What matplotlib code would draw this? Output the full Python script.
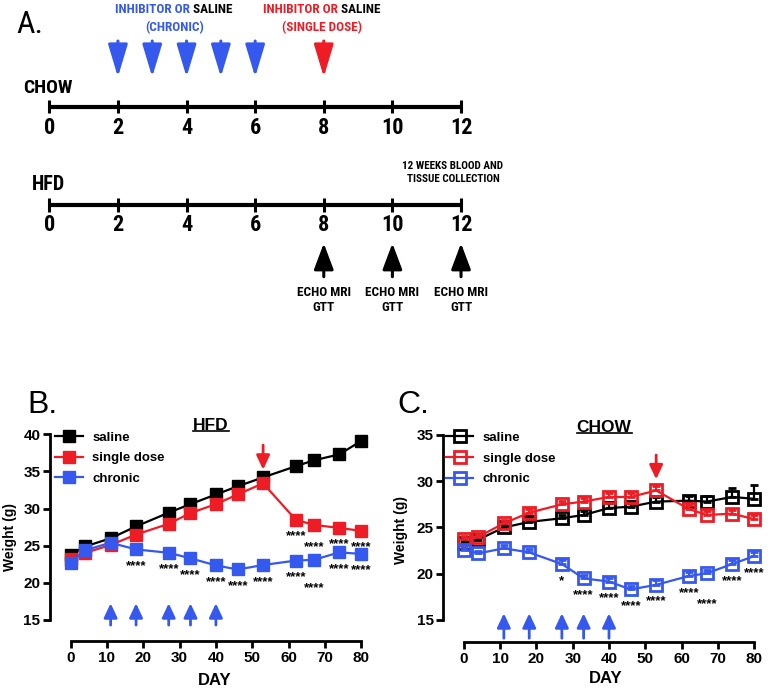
import matplotlib.pyplot as plt
from matplotlib.lines import Line2D
from matplotlib.transforms import blended_transform_factory, offset_copy
import numpy as np

plt.rcParams['font.family'] = ['Liberation Sans', 'DejaVu Sans']
plt.rcParams['font.weight'] = 'bold'

BLUE = '#3558ef'
RED = '#ee1c25'
NARROW = ['Liberation Sans Narrow', 'Roboto Condensed', 'DejaVu Sans Condensed',
          'Open Sans Condensed', 'Liberation Sans']

# panel A: study timeline (weeks)
timeline_weeks = [0, 2, 4, 6, 8, 10, 12]
chronic_weeks = [2, 3, 4, 5, 6]
single_week = 8
echo_weeks = [8, 10, 12]

# panels B and C: body weight (g) by day
days = [0, 4, 11, 18, 27, 33, 40, 46, 53, 62, 67, 74, 80]
groups = ['saline', 'single dose', 'chronic']

hfd_saline = [23.8, 24.9, 26.0, 27.6, 29.45, 30.6, 31.9, 33.0, 34.2, 35.7, 36.5, 37.3, 39.1]
hfd_single = [23.2, 24.05, 25.1, 26.5, 27.95, 29.4, 30.6, 31.9, 33.4, 28.5, 27.8, 27.4, 27.0]
hfd_chronic = [22.7, 24.4, 25.4, 24.5, 24.05, 23.3, 22.35, 21.8, 22.4, 23.0, 23.1, 24.1, 23.9]
hfd_sem = [0.3, 0.3, 0.3, 0.4, 0.4, 0.4, 0.4, 0.4, 0.5, 0.5, 0.5, 0.5, 0.6]

chow_saline = [23.3, 23.7, 25.0, 25.6, 26.0, 26.35, 27.1, 27.25, 27.8, 27.9, 27.8, 28.3, 28.1]
chow_single = [23.8, 24.0, 25.45, 26.6, 27.5, 27.8, 28.3, 28.3, 29.0, 27.0, 26.35, 26.5, 25.9]
chow_chronic = [22.6, 22.2, 22.75, 22.3, 21.05, 19.5, 19.15, 18.3, 18.8, 19.75, 20.05, 21.05, 21.9]
chow_saline_sem = [0.3, 0.3, 0.4, 0.3, 0.4, 0.4, 0.5, 0.4, 0.5, 0.5, 0.6, 0.95, 1.45]
chow_sem = [0.3, 0.3, 0.4, 0.4, 0.4, 0.4, 0.4, 0.4, 0.5, 0.4, 0.4, 0.4, 0.5]

hfd_single_stars = ['', '', '', '', '', '', '', '', '', '****', '****', '****', '****']
hfd_chronic_stars = ['', '', '', '****', '****', '****', '****', '****', '****', '****', '****', '****', '****']
chow_chronic_stars = ['', '', '', '', '*', '****', '****', '****', '****', '****', '****', '****', '****']

chronic_days = [11, 18, 27, 33, 40]
single_day = 53

W, H = 768, 693
fig = plt.figure(figsize=(W / 100, H / 100), dpi=100)


def px_axes(x0, y0, x1, y1):
    # rectangle given in pixels from the top-left corner
    return fig.add_axes([x0 / W, 1 - y1 / H, (x1 - x0) / W, (y1 - y0) / H])


# ---------------- panel A ----------------
axa = px_axes(0, 0, W, 340)
x0_px, px_wk = 49.3, 34.31
axa.set_xlim(-x0_px / px_wk, (W - x0_px) / px_wk)
axa.set_ylim(340, 0)
axa.axis('off')


def wk(px):
    return (px - x0_px) / px_wk


for y_line, y_lab in [(106.7, 128), (205, 225)]:
    axa.plot([timeline_weeks[0], timeline_weeks[-1]], [y_line, y_line], color='k', lw=3,
             solid_capstyle='butt')
    axa.vlines(timeline_weeks, y_line - 6.7, y_line + 6.7, color='k', lw=2.2)
    for w in timeline_weeks:
        axa.text(w, y_lab, str(w), ha='center', va='center', fontsize=16, family=NARROW)

axa.text(wk(22.7), 88, 'CHOW', ha='left', va='center', fontsize=14, family=NARROW)
axa.text(wk(32), 184, 'HFD', ha='left', va='center', fontsize=14.5, family=NARROW)

down = dict(arrowstyle='-|>,head_length=2.0,head_width=0.6', mutation_scale=10, lw=2.2,
            shrinkA=0, shrinkB=0)
for w in chronic_weeks:
    axa.annotate('', xy=(w, 77), xytext=(w, 41), arrowprops=dict(down, color=BLUE))
axa.annotate('', xy=(single_week, 77), xytext=(single_week, 41), arrowprops=dict(down, color=RED))

up = dict(arrowstyle='-|>,head_length=1.6,head_width=0.6', mutation_scale=10, lw=2.2,
          shrinkA=0, shrinkB=0, color='k')
for w in echo_weeks:
    axa.annotate('', xy=(w, 243.3), xytext=(w, 276.7), arrowprops=up)
    axa.text(w, 300, 'ECHO MRI\nGTT', ha='center', va='center', fontsize=9.5, family=NARROW,
             linespacing=1.25)

axa.text(wk(453), 172.8, '12 WEEKS BLOOD AND\nTISSUE COLLECTION', ha='center', va='center',
         fontsize=8, family=NARROW, linespacing=1.4)


def two_color(x, y, first, second, color):
    t1 = axa.text(x, y, first, color=color, ha='left', va='center', fontsize=9.5, family=NARROW)
    t2 = axa.annotate(second, xy=(1, 0), xycoords=t1, ha='left', va='bottom', color='k',
                      fontsize=9.5, family=NARROW)
    return t1, t2


pairs = [two_color(wk(174), 9.3, 'INHIBITOR OR', ' SALINE', BLUE),
         two_color(wk(321.5), 9.3, 'INHIBITOR OR', ' SALINE', RED)]
axa.text(wk(174.5), 28, '(CHRONIC)', color=BLUE, ha='center', va='center', fontsize=9.5, family=NARROW)
axa.text(wk(321.7), 28, '(SINGLE DOSE)', color=RED, ha='center', va='center', fontsize=9.5, family=NARROW)

fig.text(16.7 / W, 1 - 33.3 / H, 'A.', fontsize=23, fontweight='normal', family=NARROW, va='baseline')


# ---------------- panels B and C ----------------
def weight_panel(box, ylim, ytop, series, sems, filled, title, title_y, ylabel_pos, day_pos,
                 leg_anchor, star_sets, blue_arrow, red_arrow):
    ax = px_axes(*box)
    ax.set_xlim(-5.7, 83)
    ax.set_ylim(*ylim)
    for s in ['top', 'right']:
        ax.spines[s].set_visible(False)
    ax.spines['left'].set_bounds(15, ytop)
    ax.spines['bottom'].set_bounds(0, 80)
    for s in ['left', 'bottom']:
        ax.spines[s].set_linewidth(2)
    ax.set_yticks(np.arange(15, ytop + 1, 5))
    ax.set_xticks(np.arange(0, 81, 10))
    ax.tick_params(width=2, length=5, labelsize=11, pad=2)
    ax.tick_params(axis='x', pad=2.5)

    handles = []
    for k, (vals, sem, col) in enumerate(zip(series, sems, ['k', RED, BLUE])):
        c = ax.errorbar(days, vals, yerr=[np.zeros(len(sem)), sem], fmt='-s', color=col,
                        ms=9 if filled else 8, mfc=col if filled else 'none', mew=1 if filled else 2,
                        lw=1.6, elinewidth=1.6, capsize=3, capthick=1.6, zorder=2 + k)
        handles.append(c[0])

    # significance stars under the points; a label that would collide with
    # its left neighbour is pushed further down
    for vals, stars in star_sets:
        prev = None
        for d, v, s in zip(days, vals, stars):
            if not s:
                continue
            v_px = ax.transData.transform((d, v))[1]
            y_px = v_px - 12 * 100 / 72
            if prev and d - prev[0] < 6 and abs(y_px - prev[1]) < 11:
                y_px = prev[1] - 11
            ax.annotate(s, xy=(d, v), xytext=(0, (y_px - v_px) * 72 / 100), textcoords='offset points',
                        ha='center', va='center', fontsize=9.5, zorder=6)
            prev = (d, y_px)

    tr = blended_transform_factory(ax.transData, ax.transAxes)
    arr = dict(arrowstyle='-|>,head_length=0.85,head_width=0.4', mutation_scale=10, lw=2,
               shrinkA=0, shrinkB=0)
    for d in chronic_days:
        ax.annotate('', xy=(d, blue_arrow[1]), xytext=(d, blue_arrow[0]), xycoords=tr,
                    textcoords=tr, arrowprops=dict(arr, color=BLUE))
    ax.annotate('', xy=(single_day, red_arrow[1]), xytext=(single_day, red_arrow[0]), xycoords=tr,
                textcoords=tr, arrowprops=dict(arr, color=RED))

    leg = ax.legend(handles, groups, loc='upper left', bbox_to_anchor=leg_anchor, frameon=False,
                    fontsize=9.5, handlelength=2.1, handletextpad=0.7, labelspacing=0.64,
                    borderpad=0, borderaxespad=0)
    for t in leg.get_texts():
        t.set_fontweight('bold')

    t = ax.text(0.5, title_y, title, transform=ax.transAxes, ha='center', va='baseline', fontsize=12.5)
    ax.text(ylabel_pos[0], ylabel_pos[1], 'Weight (g)', transform=ax.transAxes, rotation=90,
            ha='center', va='center', fontsize=10)
    ax.text(day_pos[0], day_pos[1], 'DAY', transform=ax.transAxes, ha='center', va='center', fontsize=12)
    return ax, t


axb, tb = weight_panel((50, 426.9, 372, 640.7), (12.21, 41), 40,
                       [hfd_saline, hfd_single, hfd_chronic], [hfd_sem, hfd_sem, hfd_sem], True,
                       'HFD', 0.9855, (-0.124, 0.487), (0.512, -0.184), (0.016, 0.979),
                       [(hfd_single, hfd_single_stars), (hfd_chronic, hfd_chronic_stars)],
                       (0.073, 0.175), (0.915, 0.80))
axc, tc = weight_panel((443.3, 425.75, 764.9, 641.7), (12.65, 36.0), 35,
                       [chow_saline, chow_single, chow_chronic], [chow_saline_sem, chow_sem, chow_sem],
                       False, 'CHOW', 0.972, (-0.1325, 0.517), (0.505, -0.17), (0.0075, 0.972),
                       [(chow_chronic, chow_chronic_stars)],
                       (0.016, 0.1315), (0.8645, 0.752))

fig.text(27 / W, 1 - 413 / H, 'B.', fontsize=23, fontweight='normal', va='baseline')
fig.text(397 / W, 1 - 413.3 / H, 'C.', fontsize=23, fontweight='normal', va='baseline')

# centre the two-colour headings and underline the panel titles
fig.canvas.draw()
r = fig.canvas.get_renderer()
for t1, t2 in pairs:
    w = t1.get_window_extent(r).width + t2.get_window_extent(r).width
    t1.set_transform(offset_copy(axa.transData, fig=fig, x=-w / 2, y=0, units='dots'))
for t in [tb, tc]:
    bb = t.get_window_extent(r)
    y = (bb.y0 + 2) / H
    fig.add_artist(Line2D([bb.x0 / W, bb.x1 / W], [y, y], color='k', lw=1.2,
                          transform=fig.transFigure))

fig.savefig('out.png', dpi=100)
